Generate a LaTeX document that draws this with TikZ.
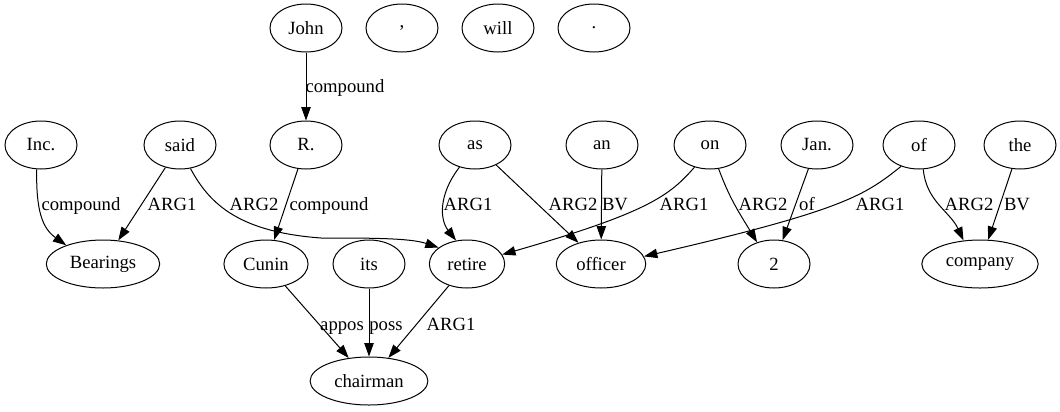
\documentclass[tikz,border=0pt]{standalone}
\usepackage{fontspec}
\setmainfont{Liberation Serif}
\usetikzlibrary{shapes.geometric,arrows.meta}
\begin{document}
\begin{tikzpicture}[x=0.75pt,y=-0.75pt,font=\fontsize{14pt}{16pt}\selectfont,
  word/.style={ellipse,draw,line width=0.75pt,minimum width=54pt,minimum height=36pt,inner xsep=5.2pt,inner ysep=2pt},
  dep/.style={draw,line width=0.75pt,-{Triangle[length=10pt,width=7pt]}},
  lab/.style={inner sep=0pt,anchor=base}]
\useasboundingbox (0,0) rectangle (1060,411);
\node [word] (john) at (306,28) {John};
\node [word] (comma) at (402,28) {,};
\node [word] (will) at (498,28) {will};
\node [word] (dot) at (594,28) {.};
\node [word] (inc) at (41,145) {Inc.};
\node [word] (said) at (180,145) {said};
\node [word] (r) at (306,145) {R.};
\node [word] (as) at (475,145) {as};
\node [word] (an) at (602,145) {an};
\node [word] (on) at (710,145) {on};
\node [word] (jan) at (817,145) {Jan.};
\node [word] (of) at (919,145) {of};
\node [word] (the) at (1020,145) {the};
\node [word] (bear) at (103,264) {Bearings};
\node [word] (cunin) at (266,264) {Cunin};
\node [word] (its) at (369,264) {its};
\node [word] (retire) at (467,264) {retire};
\node [word] (officer) at (601,264) {officer};
\node [word] (two) at (774,264) {2};
\node [word] (company) at (980,264) {company};
\node [word] (chair) at (369,381) {chairman};
\draw [dep] (john) -- (r) node [lab] at (345,92) {compound};
\draw [dep] (inc.-100) .. controls (36,210) and (42,228) .. (bear.153) node [lab] at (81,210) {compound};
\draw [dep] (said) -- (bear) node [lab] at (172,210) {ARG1};
\draw [dep] (said.-66) .. controls (210,205) and (240,232) .. (321,238) .. controls (370,238) and (410,238) .. (retire.150) node [lab] at (254,210) {ARG2};
\draw [dep] (r) -- (cunin) node [lab] at (329,210) {compound};
\draw [dep] (as.-125) .. controls (438,195) and (440,220) .. (retire.115) node [lab] at (468,210) {ARG1};
\draw [dep] (as) -- (officer) node [lab] at (573,210) {ARG2};
\draw [dep] (an) -- (officer) node [lab] at (615,210) {BV};
\draw [dep] (on.-125) .. controls (670,195) and (650,212) .. (retire.15) node [lab] at (684,210) {ARG1};
\draw [dep] (on.-70) to[out=-70,in=121] (two.128) node [lab] at (763,210) {ARG2};
\draw [dep] (jan) -- (two) node [lab] at (807,210) {of};
\draw [dep] (of.-130) .. controls (865,195) and (845,210) .. (officer.10) node [lab] at (880,210) {ARG1};
\draw [dep] (of.-80) to[out=-85,in=115] (company.125) node [lab] at (969,210) {ARG2};
\draw [dep] (the) -- (company) node [lab] at (1017,210) {BV};
\draw [dep] (cunin) -- (chair) node [lab] at (342,330) {appos};
\draw [dep] (its) -- (chair) node [lab] at (386,330) {poss};
\draw [dep] (retire) -- (chair) node [lab] at (451,330) {ARG1};
\end{tikzpicture}
\end{document}
